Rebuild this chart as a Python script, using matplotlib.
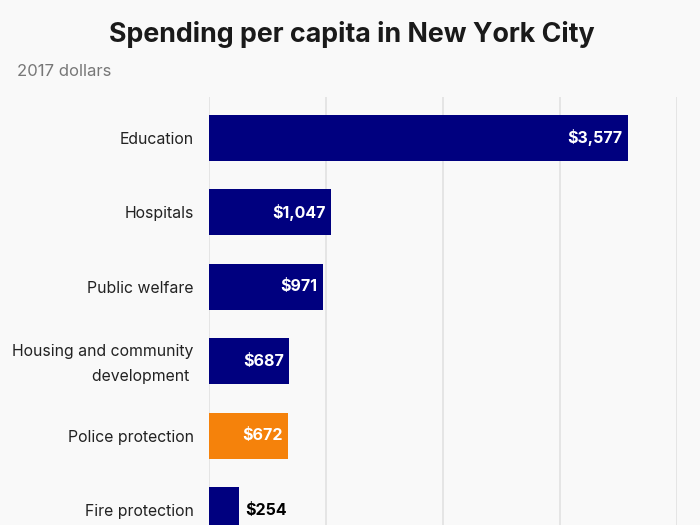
import matplotlib
matplotlib.use("Agg")
import matplotlib.pyplot as plt
import matplotlib.transforms as mtransforms

categories = ["Education", "Hospitals", "Public welfare",
              "Housing and community\ndevelopment ", "Police protection", "Fire protection"]
values = [3577, 1047, 971, 687, 672, 254]
colors = ["#00007f", "#00007f", "#00007f", "#00007f", "#f5820b", "#00007f"]
value_labels = ["$3,577", "$1,047", "$971", "$687", "$672", "$254"]
inside = [True, True, True, True, True, False]
xticks = [0, 1000, 2000, 3000, 4000]

bg = "#f9f9f9"
fig = plt.figure(figsize=(7, 5.25), dpi=100, facecolor=bg)
ax = fig.add_axes([209/700, 0, (677-209)/700, 1 - 97/525])
ax.set_facecolor(bg)

y = list(range(len(categories)))
ax.barh(y, values, height=0.62, color=colors, zorder=3)
ax.set_xlim(0, 4000)
ax.set_ylim(5 + (525-510)/74.4, -(138-97)/74.4)
ax.set_xticks(xticks)
ax.xaxis.grid(True, color="#e2e2e2", linewidth=1.2, zorder=0)
ax.tick_params(axis="x", length=0, labelbottom=False)
ax.tick_params(axis="y", length=0, pad=11)
ax.set_yticks(y)
ax.set_yticklabels(categories, fontsize=11.4, family="Inter", color="#222222", linespacing=1.85)
for s in ax.spines.values():
    s.set_visible(False)
# nudge the two-line label up slightly
lbl = ax.get_yticklabels()[3]
lbl.set_transform(lbl.get_transform() + mtransforms.ScaledTranslation(0, 4/100, fig.dpi_scale_trans))

for i, (v, lab, ins) in enumerate(zip(values, value_labels, inside)):
    if ins:
        ax.text(v - 45, i, lab, ha="right", va="center", color="white",
                fontsize=11.5, fontweight="bold", family="Inter", zorder=4)
    else:
        ax.text(v + 60, i, lab, ha="left", va="center", color="black",
                fontsize=11.5, fontweight="bold", family="Inter", zorder=4)

fig.text(352/700, 1 - 35/525, "Spending per capita in New York City", ha="center", va="center",
         fontsize=19.3, fontweight="bold", family="Inter", color="#1a1a1a")
fig.text(17/700, 1 - 71/525, "2017 dollars", ha="left", va="center",
         fontsize=12, family="Inter", color="#777777")

fig.savefig("out.png", dpi=100, facecolor=bg)
